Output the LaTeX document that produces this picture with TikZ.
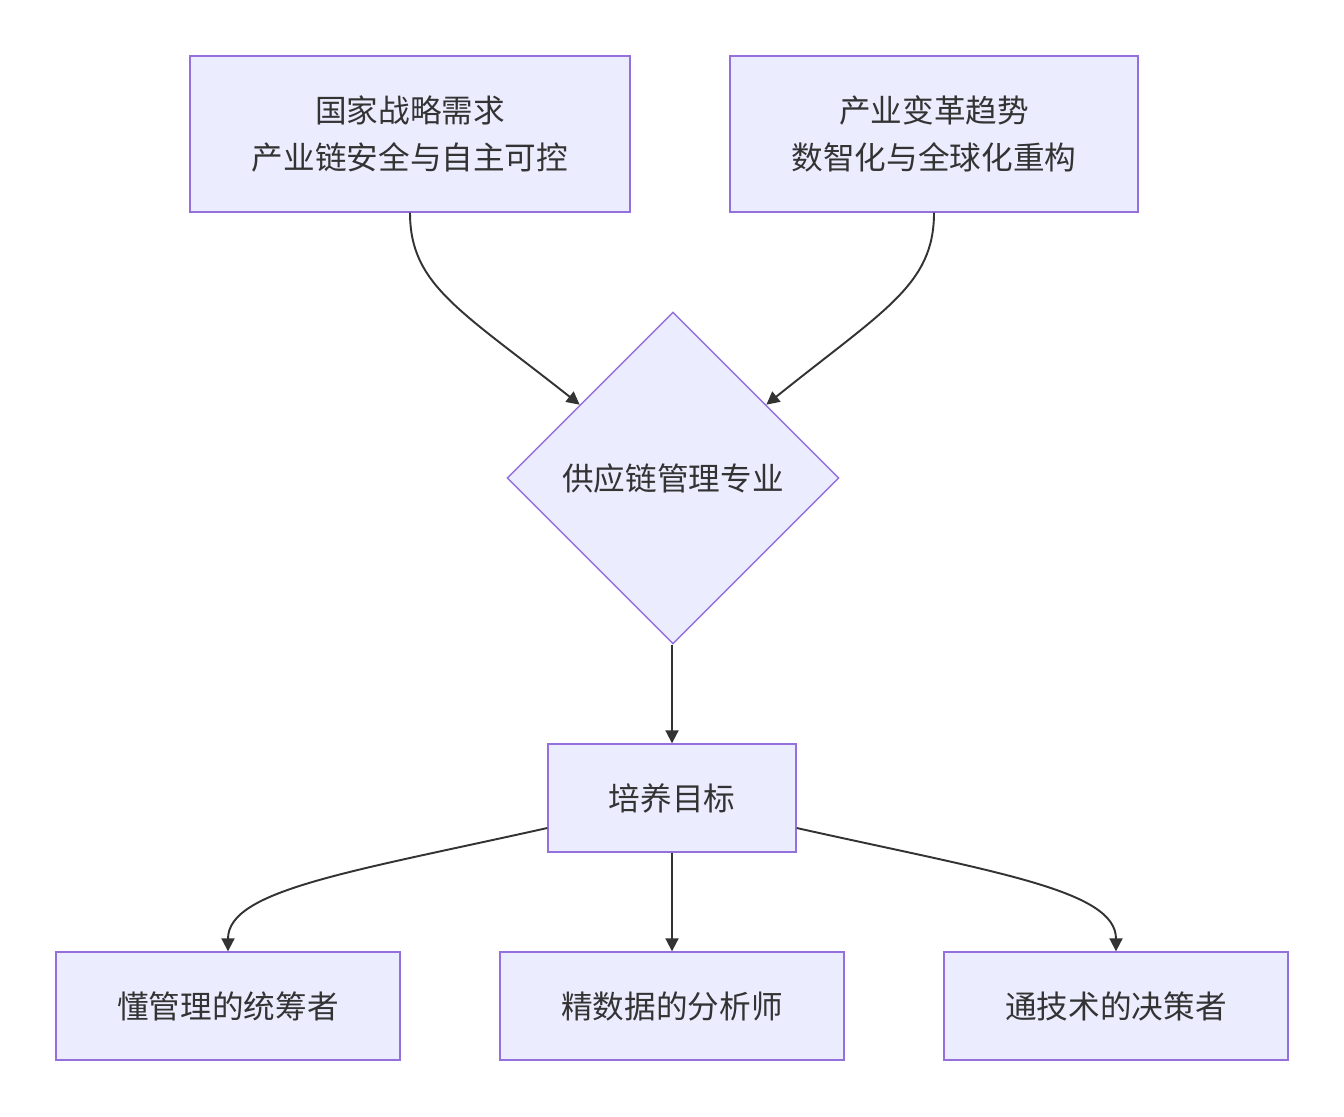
\documentclass[tikz,border=0pt]{standalone}
\usepackage{fontspec}
\newfontfamily\cjk{Noto Sans CJK SC}
\usetikzlibrary{shapes.geometric,arrows.meta,calc}
\definecolor{boxfill}{HTML}{ECECFF}
\definecolor{boxline}{HTML}{9370DB}
\definecolor{ink}{HTML}{333333}

\begin{document}
\begin{tikzpicture}[x=0.02cm,y=-0.02cm,
		box/.style={draw=boxline, fill=boxfill, line width=0.8pt, inner sep=0pt,
			text=ink, align=center, font=\cjk\fontsize{18}{27}\selectfont},
		choice/.style={box, diamond, aspect=1, minimum size=6.64cm},
		flow/.style={draw=ink, line width=1.1pt, -{Triangle[length=0.26cm,width=0.26cm]}}
	]
	\useasboundingbox (0,0) rectangle (1344,1116);
	
	% Demand boxes
	\node[box, minimum width=8.8cm, minimum height=3.12cm] (need) at (410,134) {国家战略需求\\产业链安全与自主可控};
	\node[box, minimum width=8.16cm, minimum height=3.12cm] (trend) at (934,134) {产业变革趋势\\数智化与全球化重构};
	
	% Major
	\node[choice] (major) at (673,478) {供应链管理专业};
	\coordinate (majorL) at ($(major.west)!0.44!(major.north)$);
	\coordinate (majorR) at ($(major.east)!0.44!(major.north)$);
	
	% Goal
	\node[box, minimum width=4.96cm, minimum height=2.16cm] (goal) at (672,798) {培养目标};
	
	% Profiles
	\node[box, minimum width=6.88cm, minimum height=2.16cm] (mgr) at (228,1006) {懂管理的统筹者};
	\node[box, minimum width=6.88cm, minimum height=2.16cm] (ana) at (672,1006) {精数据的分析师};
	\node[box, minimum width=6.88cm, minimum height=2.16cm] (dec) at (1116,1006) {通技术的决策者};
	
	% Edges
	\draw[flow] (need.south) .. controls (410,285) and (460,310) .. (majorL);
	\draw[flow] (trend.south) .. controls (934,285) and (884,310) .. (majorR);
	\draw[flow] (goal.north |- major.south) -- (goal.north);
	\draw[flow] (goal.west |- 0,828) .. controls (350,872) and (228,890) .. (mgr.north);
	\draw[flow] (goal.south) -- (ana.north);
	\draw[flow] (goal.east |- 0,828) .. controls (994,872) and (1116,890) .. (dec.north);
	
\end{tikzpicture}
\end{document}
